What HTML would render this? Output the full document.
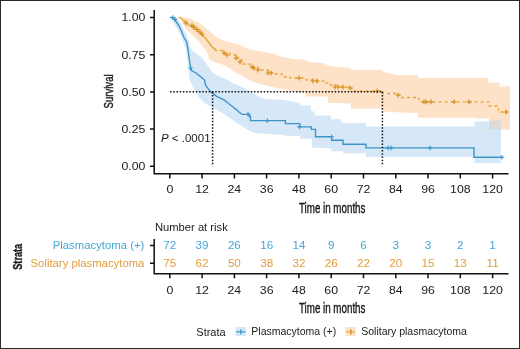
<!DOCTYPE html>
<html><head><meta charset="utf-8"><style>
html,body{margin:0;padding:0;background:#fff;}
body{width:520px;height:349px;overflow:hidden;}
svg{display:block;font-family:"Liberation Sans",sans-serif;will-change:transform;}
#frame{position:absolute;left:0;top:0;width:518px;height:347px;border:1px solid #333;}
</style></head><body>
<svg width="520" height="349" viewBox="0 0 520 349">
<rect x="0" y="0" width="520" height="349" fill="#fff"/>
<path d="M170.0,17.5 L182.0,17.5 L190.0,18.3 L195.0,21.0 L200.0,23.5 L204.0,26.5 L210.4,32.0 L215.0,35.8 L220.0,39.0 L225.8,41.2 L232.0,42.8 L238.0,44.2 L245.8,48.0 L252.0,49.8 L259.6,51.2 L267.0,52.5 L275.0,54.2 L282.0,57.0 L294.0,59.0 L305.0,60.0 L310.0,62.0 L322.0,63.0 L330.0,66.0 L340.0,67.0 L350.0,68.0 L351.0,70.0 L382.6,70.0 L383.0,72.0 L398.0,75.0 L418.0,75.0 L418.0,78.0 L488.5,78.0 L488.5,82.5 L499.5,82.5 L499.5,86.4 L510.0,86.4 L510.0,129.5 L489.0,129.5 L489.0,118.6 L474.5,118.6 L474.5,117.7 L418.0,117.7 L418.0,113.0 L400.0,112.5 L383.0,111.5 L383.0,108.5 L351.0,108.5 L351.0,103.5 L328.0,102.8 L328.0,96.5 L306.0,96.5 L306.0,92.5 L300.0,92.5 L290.0,90.5 L280.0,88.5 L270.0,86.5 L263.6,84.8 L254.4,82.5 L247.5,79.0 L240.6,75.0 L235.0,72.2 L229.2,68.0 L224.6,65.5 L220.0,63.5 L214.0,62.0 L209.4,59.7 L207.0,52.0 L202.9,46.8 L197.7,40.3 L192.6,35.2 L187.0,30.3 L183.5,25.0 L180.0,18.5 L170.0,17.5 Z" fill="#fee2c8"/>
<path d="M170.0,17.5 L176.0,17.5 L180.0,22.0 L183.0,28.0 L186.0,34.0 L188.5,41.0 L190.5,48.0 L193.0,51.0 L197.0,54.0 L201.0,57.0 L205.0,62.0 L209.0,67.5 L212.3,72.5 L220.0,76.8 L226.9,79.5 L235.0,84.0 L243.0,87.5 L250.0,91.0 L256.0,95.0 L262.0,98.5 L284.0,100.0 L300.0,103.0 L300.0,105.4 L311.0,105.4 L311.0,111.5 L315.0,111.5 L315.0,115.4 L331.0,115.4 L331.0,119.2 L341.5,119.2 L341.5,123.0 L366.0,123.0 L366.0,126.5 L474.5,126.5 L474.5,121.6 L489.0,121.6 L489.0,120.5 L501.0,120.5 L501.0,163.0 L474.5,163.0 L474.5,157.0 L366.0,157.0 L366.0,153.3 L343.0,153.3 L343.0,151.3 L331.5,151.3 L331.5,148.5 L312.0,147.5 L312.0,138.8 L300.0,138.8 L300.0,136.0 L285.0,136.0 L285.0,135.0 L267.6,133.9 L253.8,132.8 L247.0,129.3 L237.8,123.6 L226.3,115.5 L217.0,109.8 L208.0,105.2 L203.3,101.8 L198.0,96.0 L194.0,89.0 L189.6,80.0 L189.0,75.0 L188.5,70.0 L188.0,63.0 L187.0,56.0 L185.5,48.0 L183.0,41.0 L180.0,34.0 L177.0,28.0 L174.0,23.0 L171.5,19.5 L170.0,17.5 Z" fill="#d6e8f7"/>
<rect x="489" y="120.5" width="12" height="9" fill="#dcd9d6"/>
<path d="M170.0,17.5 L173.0,17.5 L176.0,21.5 L178.8,25.5 L181.2,30.5 L184.0,37.5 L186.5,41.5 L187.8,48.4 L189.0,57.0 L190.2,65.5 L191.5,70.5 L196.0,73.0 L201.0,77.0 L204.5,80.0 L205.5,85.0 L208.9,89.8 L211.5,92.4 L216.6,96.3 L224.4,100.2 L228.8,103.8 L232.7,106.7 L236.5,109.6 L239.4,112.5 L242.3,114.4 H248.0 V114.4 H249.5 V116.5 H250.5 V120.6 H285.4 V120.6 H285.4 V123.6 H299.8 V123.6 H299.8 V126.9 H311.3 V126.9 H311.3 V129.4 H313.5 V129.4 H315.5 V132.5 H315.5 V136.8 H331.6 V136.8 H331.6 V140.3 H343.0 V140.3 H343.0 V144.2 H366.0 V144.2 H366.0 V147.9 H474.0 V147.9 H474.0 V157.2 H502.0 V157.2" stroke="#3d95c8" stroke-width="1.4" fill="none"/>
<path d="M179.0,17.5 L180.3,17.5 L183.0,20.0 L186.0,22.7 L189.0,25.0 L193.0,27.8 L196.8,30.0 L200.4,33.5 L203.0,35.6 L206.0,39.0 L209.0,42.8 L211.8,46.4 L214.7,49.0 L216.0,50.5" stroke="#e6a637" stroke-width="1.4" fill="none"/>
<path d="M214.7,49.0 L216.0,50.5 H224.0 V53.0 H230.0 V55.0 H238.0 V60.0 H242.0 V64.0 H250.0 V67.0 H258.0 V70.0 H268.0 V73.0 H272.0 V74.0 H282.0 V77.0 H290.0 V78.0 H299.0 V78.0 H306.0 V80.0 H314.0 V81.0 H319.0 V81.0 H326.0 V83.0 H330.0 V85.0 H336.0 V87.0 H344.0 V87.0 H350.0 V88.0 H352.0 V91.0 H382.6 V91.0 H383.0 V93.5 H398.0 V95.0 H400.0 V97.5 H418.0 V97.5 H419.0 V101.8 H488.0 V101.8 H489.0 V106.0 H497.5 V106.0 H498.5 V112.0 H508.0 V112.0" stroke="#e6a637" stroke-width="1.3" fill="none" stroke-dasharray="3,3"/>
<path d="M170.5,17.5 h4.6 M172.8,15.2 v4.6 M172.7,19.5 h4.6 M175.0,17.2 v4.6 M188.2,68.0 h4.6 M190.5,65.7 v4.6 M245.7,114.4 h4.6 M248.0,112.1 v4.6 M265.0,120.6 h4.6 M267.3,118.3 v4.6 M297.2,126.9 h4.6 M299.5,124.6 v4.6 M329.3,136.8 h4.6 M331.6,134.5 v4.6 M385.7,147.9 h4.6 M388.0,145.6 v4.6 M388.7,147.9 h4.6 M391.0,145.6 v4.6 M427.7,147.9 h4.6 M430.0,145.6 v4.6 M499.7,157.2 h4.6 M502.0,154.9 v4.6" stroke="#3d95c8" stroke-width="1.1" fill="none"/>
<path d="M183.5,23.0 h5.0 M186.0,20.5 v5.0 M189.5,25.5 h5.0 M192.0,23.0 v5.0 M191.5,27.0 h5.0 M194.0,24.5 v5.0 M194.5,29.5 h5.0 M197.0,27.0 v5.0 M197.5,32.0 h5.0 M200.0,29.5 v5.0 M199.5,34.0 h5.0 M202.0,31.5 v5.0 M221.5,53.0 h5.0 M224.0,50.5 v5.0 M224.5,55.0 h5.0 M227.0,52.5 v5.0 M233.5,58.0 h5.0 M236.0,55.5 v5.0 M237.5,62.0 h5.0 M240.0,59.5 v5.0 M249.5,67.0 h5.0 M252.0,64.5 v5.0 M251.5,68.0 h5.0 M254.0,65.5 v5.0 M255.5,70.0 h5.0 M258.0,67.5 v5.0 M265.5,73.0 h5.0 M268.0,70.5 v5.0 M268.5,73.0 h5.0 M271.0,70.5 v5.0 M296.5,78.0 h5.0 M299.0,75.5 v5.0 M310.5,81.0 h5.0 M313.0,78.5 v5.0 M314.5,81.0 h5.0 M317.0,78.5 v5.0 M332.5,87.0 h5.0 M335.0,84.5 v5.0 M335.5,87.0 h5.0 M338.0,84.5 v5.0 M340.5,87.0 h5.0 M343.0,84.5 v5.0 M347.5,88.0 h5.0 M350.0,85.5 v5.0 M374.5,91.0 h5.0 M377.0,88.5 v5.0 M395.5,95.0 h5.0 M398.0,92.5 v5.0 M421.5,101.8 h5.0 M424.0,99.3 v5.0 M423.5,101.8 h5.0 M426.0,99.3 v5.0 M428.5,101.8 h5.0 M431.0,99.3 v5.0 M451.5,101.8 h5.0 M454.0,99.3 v5.0 M466.5,101.8 h5.0 M469.0,99.3 v5.0 M503.5,112.0 h5.0 M506.0,109.5 v5.0" stroke="#d58d1e" stroke-width="1.2" fill="none"/>
<path d="M170,91.8 H382.4 M212.6,91.8 V166.2 M382.4,91.8 V166.2" stroke="#111" stroke-width="1.5" stroke-dasharray="1.5,1.73" fill="none"/>
<path d="M154.2,10 V173.7 H508.5 M150.0,17.5 H154.2 M150.0,54.7 H154.2 M150.0,91.9 H154.2 M150.0,129.1 H154.2 M150.0,166.2 H154.2 M169.8,173.7 V178.5 M202.1,173.7 V178.5 M234.4,173.7 V178.5 M266.6,173.7 V178.5 M298.9,173.7 V178.5 M331.2,173.7 V178.5 M363.5,173.7 V178.5 M395.8,173.7 V178.5 M428.0,173.7 V178.5 M460.3,173.7 V178.5 M492.6,173.7 V178.5 M154.2,239 V273.7 H508.5 M150.0,245.4 H154.2 M150.0,263.3 H154.2 M169.8,273.7 V278.3 M202.1,273.7 V278.3 M234.4,273.7 V278.3 M266.6,273.7 V278.3 M298.9,273.7 V278.3 M331.2,273.7 V278.3 M363.5,273.7 V278.3 M395.8,273.7 V278.3 M428.0,273.7 V278.3 M460.3,273.7 V278.3 M492.6,273.7 V278.3" stroke="#111" stroke-width="1.5" fill="none"/>
<text transform="translate(145.40,21.30) scale(1.100,1)" font-size="11.20" text-anchor="end" fill="#1a1a1a" >1.00</text>
<text transform="translate(145.40,58.50) scale(1.100,1)" font-size="11.20" text-anchor="end" fill="#1a1a1a" >0.75</text>
<text transform="translate(145.40,95.70) scale(1.100,1)" font-size="11.20" text-anchor="end" fill="#1a1a1a" >0.50</text>
<text transform="translate(145.40,132.90) scale(1.100,1)" font-size="11.20" text-anchor="end" fill="#1a1a1a" >0.25</text>
<text transform="translate(145.40,170.00) scale(1.100,1)" font-size="11.20" text-anchor="end" fill="#1a1a1a" >0.00</text>
<text transform="translate(169.80,193.20) scale(1.120,1)" font-size="11.00" text-anchor="middle" fill="#1a1a1a" >0</text>
<text transform="translate(169.80,294.00) scale(1.120,1)" font-size="11.00" text-anchor="middle" fill="#1a1a1a" >0</text>
<text transform="translate(202.08,193.20) scale(1.120,1)" font-size="11.00" text-anchor="middle" fill="#1a1a1a" >12</text>
<text transform="translate(202.08,294.00) scale(1.120,1)" font-size="11.00" text-anchor="middle" fill="#1a1a1a" >12</text>
<text transform="translate(234.36,193.20) scale(1.120,1)" font-size="11.00" text-anchor="middle" fill="#1a1a1a" >24</text>
<text transform="translate(234.36,294.00) scale(1.120,1)" font-size="11.00" text-anchor="middle" fill="#1a1a1a" >24</text>
<text transform="translate(266.64,193.20) scale(1.120,1)" font-size="11.00" text-anchor="middle" fill="#1a1a1a" >36</text>
<text transform="translate(266.64,294.00) scale(1.120,1)" font-size="11.00" text-anchor="middle" fill="#1a1a1a" >36</text>
<text transform="translate(298.92,193.20) scale(1.120,1)" font-size="11.00" text-anchor="middle" fill="#1a1a1a" >48</text>
<text transform="translate(298.92,294.00) scale(1.120,1)" font-size="11.00" text-anchor="middle" fill="#1a1a1a" >48</text>
<text transform="translate(331.20,193.20) scale(1.120,1)" font-size="11.00" text-anchor="middle" fill="#1a1a1a" >60</text>
<text transform="translate(331.20,294.00) scale(1.120,1)" font-size="11.00" text-anchor="middle" fill="#1a1a1a" >60</text>
<text transform="translate(363.48,193.20) scale(1.120,1)" font-size="11.00" text-anchor="middle" fill="#1a1a1a" >72</text>
<text transform="translate(363.48,294.00) scale(1.120,1)" font-size="11.00" text-anchor="middle" fill="#1a1a1a" >72</text>
<text transform="translate(395.76,193.20) scale(1.120,1)" font-size="11.00" text-anchor="middle" fill="#1a1a1a" >84</text>
<text transform="translate(395.76,294.00) scale(1.120,1)" font-size="11.00" text-anchor="middle" fill="#1a1a1a" >84</text>
<text transform="translate(428.04,193.20) scale(1.120,1)" font-size="11.00" text-anchor="middle" fill="#1a1a1a" >96</text>
<text transform="translate(428.04,294.00) scale(1.120,1)" font-size="11.00" text-anchor="middle" fill="#1a1a1a" >96</text>
<text transform="translate(460.32,193.20) scale(1.120,1)" font-size="11.00" text-anchor="middle" fill="#1a1a1a" >108</text>
<text transform="translate(460.32,294.00) scale(1.120,1)" font-size="11.00" text-anchor="middle" fill="#1a1a1a" >108</text>
<text transform="translate(492.60,193.20) scale(1.120,1)" font-size="11.00" text-anchor="middle" fill="#1a1a1a" >120</text>
<text transform="translate(492.60,294.00) scale(1.120,1)" font-size="11.00" text-anchor="middle" fill="#1a1a1a" >120</text>
<text transform="translate(332.20,213.10) scale(0.699,1)" font-size="14.00" font-weight="normal" text-anchor="middle" fill="#1a1a1a" stroke="#1a1a1a" stroke-width="0.4">Time in months</text>
<text transform="translate(332.20,313.40) scale(0.699,1)" font-size="14.00" font-weight="normal" text-anchor="middle" fill="#1a1a1a" stroke="#1a1a1a" stroke-width="0.4">Time in months</text>
<text transform="translate(113.00,91.40) rotate(-90) scale(0.747,1)" font-size="12.80" font-weight="normal" text-anchor="middle" fill="#1a1a1a" stroke="#1a1a1a" stroke-width="0.4">Survival</text>
<text transform="translate(22.40,256.80) rotate(-90) scale(0.685,1)" font-size="13.40" font-weight="bold" text-anchor="middle" fill="#1a1a1a" stroke="#1a1a1a" stroke-width="0.4">Strata</text>
<text x="161" y="142.1" font-size="11.5" fill="#1a1a1a"><tspan font-style="italic">P</tspan> &lt; .0001</text>
<text transform="translate(155.00,231.30) scale(1.000,1)" font-size="11.20" text-anchor="start" fill="#1a1a1a" >Number at risk</text>
<text transform="translate(144.40,249.00) scale(1.014,1)" font-size="11.20" text-anchor="end" fill="#45a6d8" >Plasmacytoma (+)</text>
<text transform="translate(144.40,266.50) scale(1.012,1)" font-size="11.20" text-anchor="end" fill="#e49c38" >Solitary plasmacytoma</text>
<text transform="translate(169.80,249.00) scale(1.060,1)" font-size="11.00" text-anchor="middle" fill="#45a6d8" >72</text>
<text transform="translate(169.80,266.60) scale(1.060,1)" font-size="11.00" text-anchor="middle" fill="#e49c38" >75</text>
<text transform="translate(202.08,249.00) scale(1.060,1)" font-size="11.00" text-anchor="middle" fill="#45a6d8" >39</text>
<text transform="translate(202.08,266.60) scale(1.060,1)" font-size="11.00" text-anchor="middle" fill="#e49c38" >62</text>
<text transform="translate(234.36,249.00) scale(1.060,1)" font-size="11.00" text-anchor="middle" fill="#45a6d8" >26</text>
<text transform="translate(234.36,266.60) scale(1.060,1)" font-size="11.00" text-anchor="middle" fill="#e49c38" >50</text>
<text transform="translate(266.64,249.00) scale(1.060,1)" font-size="11.00" text-anchor="middle" fill="#45a6d8" >16</text>
<text transform="translate(266.64,266.60) scale(1.060,1)" font-size="11.00" text-anchor="middle" fill="#e49c38" >38</text>
<text transform="translate(298.92,249.00) scale(1.060,1)" font-size="11.00" text-anchor="middle" fill="#45a6d8" >14</text>
<text transform="translate(298.92,266.60) scale(1.060,1)" font-size="11.00" text-anchor="middle" fill="#e49c38" >32</text>
<text transform="translate(331.20,249.00) scale(1.060,1)" font-size="11.00" text-anchor="middle" fill="#45a6d8" >9</text>
<text transform="translate(331.20,266.60) scale(1.060,1)" font-size="11.00" text-anchor="middle" fill="#e49c38" >26</text>
<text transform="translate(363.48,249.00) scale(1.060,1)" font-size="11.00" text-anchor="middle" fill="#45a6d8" >6</text>
<text transform="translate(363.48,266.60) scale(1.060,1)" font-size="11.00" text-anchor="middle" fill="#e49c38" >22</text>
<text transform="translate(395.76,249.00) scale(1.060,1)" font-size="11.00" text-anchor="middle" fill="#45a6d8" >3</text>
<text transform="translate(395.76,266.60) scale(1.060,1)" font-size="11.00" text-anchor="middle" fill="#e49c38" >20</text>
<text transform="translate(428.04,249.00) scale(1.060,1)" font-size="11.00" text-anchor="middle" fill="#45a6d8" >3</text>
<text transform="translate(428.04,266.60) scale(1.060,1)" font-size="11.00" text-anchor="middle" fill="#e49c38" >15</text>
<text transform="translate(460.32,249.00) scale(1.060,1)" font-size="11.00" text-anchor="middle" fill="#45a6d8" >2</text>
<text transform="translate(460.32,266.60) scale(1.060,1)" font-size="11.00" text-anchor="middle" fill="#e49c38" >13</text>
<text transform="translate(492.60,249.00) scale(1.060,1)" font-size="11.00" text-anchor="middle" fill="#45a6d8" >1</text>
<text transform="translate(492.60,266.60) scale(1.060,1)" font-size="11.00" text-anchor="middle" fill="#e49c38" >11</text>
<text transform="translate(196.30,335.50) scale(1.000,1)" font-size="11.00" text-anchor="start" fill="#1a1a1a" >Strata</text>
<rect x="235.6" y="327.0" width="10.4" height="9.0" fill="#d6e8f7"/>
<path d="M236.3,331.8 H245.3 M240.8,329.2 V334.4" stroke="#3d95c8" stroke-width="1.2"/>
<text transform="translate(251.30,335.30) scale(1.000,1)" font-size="10.50" text-anchor="start" fill="#1a1a1a" >Plasmacytoma (+)</text>
<rect x="345.4" y="327.0" width="10.2" height="9.2" fill="#fee2c8"/>
<path d="M346.2,331.8 H355.0" stroke="#e6a637" stroke-width="1.2"/><path d="M350.8,329.2 V334.4" stroke="#d08a22" stroke-width="1.4"/>
<text transform="translate(361.20,335.30) scale(1.000,1)" font-size="10.50" text-anchor="start" fill="#1a1a1a" >Solitary plasmacytoma</text>
<rect x="0.5" y="0.5" width="519" height="348" fill="none" stroke="#2a2a2a" stroke-width="1"/>
</svg>
</body></html>
